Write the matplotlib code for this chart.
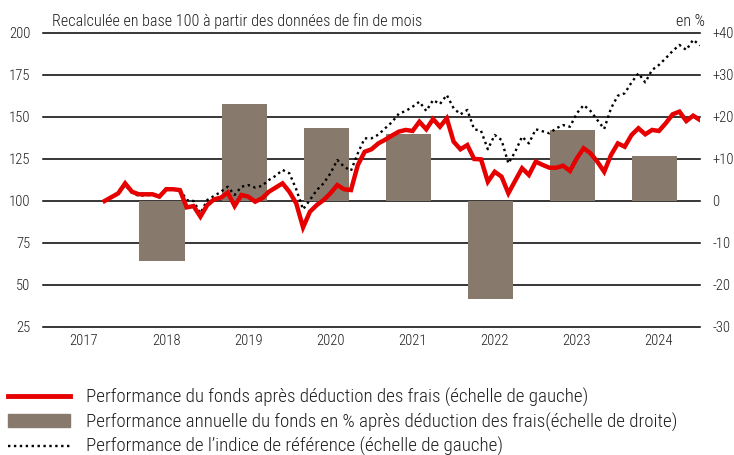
import numpy as np
import matplotlib
matplotlib.use("Agg")
import matplotlib.pyplot as plt
from matplotlib.lines import Line2D
from matplotlib.patches import Patch

plt.rcParams['font.family'] = ['Roboto Condensed', 'DejaVu Sans']
plt.rcParams['font.weight'] = 300

# monthly values, end Sep 2017 .. end Dec 2024 (base 100)
fund = [100, 102.3, 104.6, 110.5, 105.5, 104, 104, 104, 102.6, 107, 107, 106.5,
        96.2, 97, 90.7, 97.6, 101, 102, 105, 97, 103.6, 102.6, 99.6, 101.6,
        105.5, 108, 110.5, 105.5, 98.6, 84.3, 93.6, 97.6, 100.6, 104.6, 109.5, 107,
        106.5, 121.4, 129.3, 130.8, 134.3, 136.5, 139, 141.3, 142.3, 141.7, 147.2, 142.7,
        148.8, 144.2, 149.2, 135.3, 130.8, 133.3, 125, 124.8, 111.5, 117.4, 114.5, 104.6,
        112.1, 119.5, 115.5, 123.4, 121.5, 119.8, 119.8, 121, 117.9, 125.4, 131.4, 128.4,
        123.4, 117.4, 127.4, 134.3, 132.3, 139.3, 143.3, 139.7, 142.3, 141.7, 146.3, 151.6,
        153.2, 147.6, 150.8, 148.2]
bench = [100, 102, 104, 109.5, 105, 103, 103.5, 103.5, 103, 106.5, 107, 107,
         100.6, 100, 92.7, 100.6, 103, 105.5, 108.5, 103.6, 108.5, 109.5, 108, 109,
         112.5, 115, 118.5, 116.5, 107, 95, 100.6, 106.5, 110.5, 116.5, 124.4, 120.4,
         118, 128.4, 137.3, 137.3, 139.5, 143.3, 147, 152, 153.6, 156.1, 159.1, 153.6,
         160.1, 157.7, 163.1, 155.2, 151.6, 154.2, 142.7, 141.8, 130.8, 139.3, 136.3, 122.4,
         129.3, 138.3, 134.3, 142.7, 141.5, 140.3, 143.3, 145.2, 144.2, 152.2, 157.1, 153.6,
         148.2, 142.9, 155.2, 162.7, 164.1, 170.6, 176, 170.6, 178, 181, 185, 189.3,
         192.9, 189.9, 196, 192.6]

bar_years = [2018, 2019, 2020, 2021, 2022, 2023, 2024]
annual = [-14.3, 23.1, 17.4, 16.0, -23.3, 16.9, 10.7]

year_labels = [2017, 2018, 2019, 2020, 2021, 2022, 2023, 2024]
left_ticks = [25, 50, 75, 100, 125, 150, 175, 200]
right_ticks = [-30, -20, -10, 0, 10, 20, 30, 40]
right_labels = ['-30', '-20', '-10', '0', '+10', '+20', '+30', '+40']

red = '#e60000'
brown = '#877a6c'
txt = '#1e1e1e'

t = 2017.75 + np.arange(len(fund)) / 12

fig = plt.figure(figsize=(7.34, 4.55), dpi=100)
ax2 = fig.add_axes([43/734, 1-327/455, 657/734, 294/455])
ax = ax2.twinx()
ax.yaxis.tick_left()
ax2.yaxis.tick_right()
ax.set_zorder(ax2.get_zorder() + 1)
ax.patch.set_visible(False)

# gridlines under the bars (right scale)
for v in right_ticks:
    ax2.axhline(v, color='black', lw=1.1, zorder=1, clip_on=False)
ax2.bar(np.array(bar_years) + 0.45, annual, width=0.55, color=brown, zorder=2)
ax2.set_ylim(-30, 40)
ax2.set_yticks(right_ticks)
ax2.set_yticklabels(right_labels)

# lines (left scale)
ax.plot(t, bench, color='black', lw=1.7, ls=(0, (1, 1.5)))
ax.plot(t, fund, color=red, lw=3.2, solid_joinstyle='miter')
ax.set_ylim(25, 200)
ax.set_yticks(left_ticks)

ax2.set_xlim(2017, 2025)
ax2.set_xticks(np.array(year_labels) + 0.5)
ax2.set_xticklabels([str(y) for y in year_labels])

for a in (ax, ax2):
    for s in a.spines.values():
        s.set_visible(False)
    a.tick_params(length=0, labelsize=10.5, colors=txt)
ax.tick_params(axis='y', pad=9)
ax2.tick_params(axis='y', pad=9)
ax2.tick_params(axis='x', pad=5)

fig.text(52/734, 1-21/455, "Recalculée en base 100 à partir des données de fin de mois",
         fontsize=11.6, va='center', ha='left', color=txt)
fig.text(705/734, 1-21/455, "en %", fontsize=11.6, va='center', ha='right', color=txt)

handles = [Line2D([], [], color=red, lw=3.5),
           Patch(color=brown),
           Line2D([], [], color='black', lw=1.7, ls=(0, (1, 1.5)))]
labels = ["Performance du fonds après déduction des frais (échelle de gauche)",
          "Performance annuelle du fonds en % après déduction des frais(échelle de droite)",
          "Performance de l’indice de référence (échelle de gauche)"]
fig.legend(handles, labels, loc='upper left', bbox_to_anchor=(8/734, 1-388/455),
           frameon=False, fontsize=13.7, handlelength=3.25, handleheight=0.65,
           handletextpad=0.84, labelspacing=0.29, borderpad=0, borderaxespad=0,
           labelcolor=txt)

fig.savefig('out.png', dpi=100)
